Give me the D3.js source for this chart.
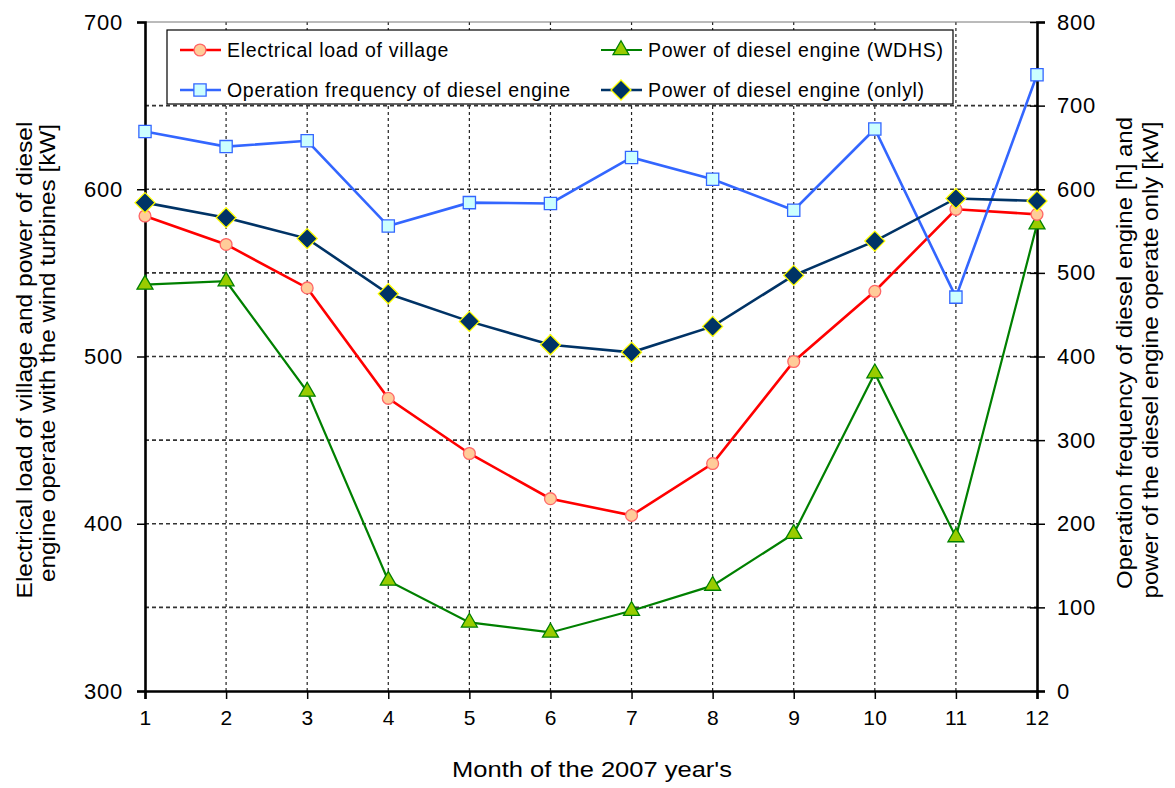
<!DOCTYPE html>
<html>
<head>
<meta charset="utf-8">
<script src="https://cdn.jsdelivr.net/npm/d3@7"></script>
<style>
  body { margin: 0; background: #fff; }
  svg text { font-family: "Liberation Sans", Arial, sans-serif; fill: #000; }
</style>
</head>
<body>
<div id="chart-area"></div>
<script>
const months = [1, 2, 3, 4, 5, 6, 7, 8, 9, 10, 11, 12];
// left axis [kW]
const villageLoad = [584, 567, 541, 475, 442, 415, 405, 436, 497, 539, 588, 585];
const dieselWDHS = [543, 545, 479, 366, 341, 335, 348, 363, 394, 490, 392, 579];
// right axis [h] / [kW]
const operationFreq = [669, 651, 658, 556, 584, 583, 638, 612, 575, 672, 471, 737];
const dieselOnly = [584, 566, 541, 475, 442, 414, 405, 436, 497, 538, 589, 586];

const leftTicks = [300, 400, 500, 600, 700];
const rightTicks = [0, 100, 200, 300, 400, 500, 600, 700, 800];

const margin = {top: 22, right: 138, bottom: 97, left: 145};
const width = 1175 - margin.left - margin.right;
const height = 788 - margin.top - margin.bottom;

const svg = d3.select("#chart-area")
  .append("svg")
  .attr("width", 1175)
  .attr("height", 788)
  .append("g")
  .attr("transform", `translate(${margin.left},${margin.top})`);

const x = d3.scaleLinear().domain([1, 12]).range([0, width]);
const yL = d3.scaleLinear().domain([300, 700]).range([height, 0]);
const yR = d3.scaleLinear().domain([0, 800]).range([height, 0]);

// grid
svg.selectAll(".x-grid")
  .data(months.slice(1, -1))
  .enter()
  .append("line")
  .attr("x1", d => x(d))
  .attr("x2", d => x(d))
  .attr("y1", 0)
  .attr("y2", height)
  .attr("stroke", "#222")
  .attr("stroke-width", 1.2)
  .attr("stroke-dasharray", "3,3");

svg.selectAll(".y-grid")
  .data(rightTicks.slice(1, -1))
  .enter()
  .append("line")
  .attr("x1", 0)
  .attr("x2", width)
  .attr("y1", d => yR(d))
  .attr("y2", d => yR(d))
  .attr("stroke", "#333")
  .attr("stroke-width", 1.6)
  .attr("stroke-dasharray", "4,3");

svg.append("line")
  .attr("x1", 0).attr("x2", width)
  .attr("y1", 0).attr("y2", 0)
  .attr("stroke", "#777").attr("stroke-width", 1);

// axes
const xAxis = svg.append("g")
  .attr("transform", `translate(0,${height})`)
  .call(d3.axisBottom(x).tickValues(months).tickFormat(d3.format("d")).tickSize(8).tickPadding(11));

const leftAxis = svg.append("g")
  .call(d3.axisLeft(yL).tickValues(leftTicks).tickSize(8).tickPadding(14));

const rightAxis = svg.append("g")
  .attr("transform", `translate(${width},0)`)
  .call(d3.axisRight(yR).tickValues(rightTicks).tickSize(8).tickPadding(12));

rightAxis.selectAll(".tick line").attr("x1", -7);

[xAxis, leftAxis, rightAxis].forEach(g => {
  g.select(".domain").attr("stroke", "#000").attr("stroke-width", 2.6);
  g.selectAll(".tick line").attr("stroke", "#000").attr("stroke-width", 1.5);
  g.selectAll(".tick text").style("font-size", "22px").style("letter-spacing", "0.8px");
});
xAxis.selectAll(".tick text").style("font-size", "21px").style("letter-spacing", "0.5px");

// series
const series = [
  {name: "Power of diesel engine (WDHS)", data: dieselWDHS, y: yL, line: "#008000", fill: "#99cc00", stroke: "#008000", shape: d3.symbolTriangle, size: 110, width: 2.2},
  {name: "Electrical load of village", data: villageLoad, y: yL, line: "#ff0000", fill: "#ffcc99", stroke: "#ff6666", shape: d3.symbolCircle, size: 110, width: 2.6},
  {name: "Operation frequency of diesel engine", data: operationFreq, y: yR, line: "#3366ff", fill: "#ccffff", stroke: "#3366ff", shape: d3.symbolSquare, size: 150, width: 2.6},
  {name: "Power of diesel engine (onlyl)", data: dieselOnly, y: yR, line: "#003366", fill: "#003366", stroke: "#ffff00", shape: d3.symbolDiamond, size: 0, width: 2.6}
];

function marker(sel, s) {
  if (s.shape === d3.symbolDiamond) {
    sel.attr("d", "M0,-10L10,0L0,10L-10,0Z");
  } else {
    sel.attr("d", d3.symbol().type(s.shape).size(s.size)());
  }
  sel.attr("fill", s.fill).attr("stroke", s.stroke).attr("stroke-width", 1.3);
}

series.forEach(s => {
  const line = d3.line().x((d, i) => x(months[i])).y(d => s.y(d));
  svg.append("path")
    .datum(s.data)
    .attr("d", line)
    .attr("fill", "none")
    .attr("stroke", s.line)
    .attr("stroke-width", s.width);
  svg.selectAll(null)
    .data(s.data)
    .enter()
    .append("path")
    .attr("transform", (d, i) => `translate(${x(months[i])},${s.y(d)})`)
    .call(marker, s);
});

// legend
const legend = svg.append("g").attr("transform", "translate(22,8)");
legend.append("rect")
  .attr("width", 786).attr("height", 74)
  .attr("fill", "#fff").attr("stroke", "#000").attr("stroke-width", 1.2);

const legendOrder = [series[1], series[0], series[2], series[3]];
legendOrder.forEach((s, i) => {
  const lx = (i % 2) * 421 + 13;
  const ly = Math.floor(i / 2) * 40 + 20;
  const g = legend.append("g").attr("transform", `translate(${lx},${ly})`);
  g.append("line").attr("x1", 0).attr("x2", 41).attr("y1", 0).attr("y2", 0)
    .attr("stroke", s.line).attr("stroke-width", s.width);
  g.append("path").attr("transform", "translate(20,0)").call(marker, s);
  g.append("text").attr("x", 47).attr("y", 7)
    .style("font-size", "19.5px").style("letter-spacing", "0.7px").text(s.name);
});

// axis titles
function title(tx, ty, rot, len, txt) {
  svg.append("text")
    .attr("transform", `translate(${tx},${ty}) rotate(${rot})`)
    .attr("text-anchor", "middle")
    .attr("textLength", len)
    .attr("lengthAdjust", "spacingAndGlyphs")
    .style("font-size", "22px")
    .text(txt);
}
title(32 - margin.left, 360 - margin.top, -90, 477, "Electrical load of village and power of diesel");
title(55 - margin.left, 353 - margin.top, -90, 458, "engine operate with the wind turbines [kW]");
title(1132 - margin.left, 353 - margin.top, -90, 472, "Operation frequency of diesel engine [h] and");
title(1158 - margin.left, 360 - margin.top, -90, 477, "power of the diesel engine operate only [kW]");
title(592 - margin.left, 777 - margin.top, 0, 280, "Month of the 2007 year's");
</script>
</body>
</html>
